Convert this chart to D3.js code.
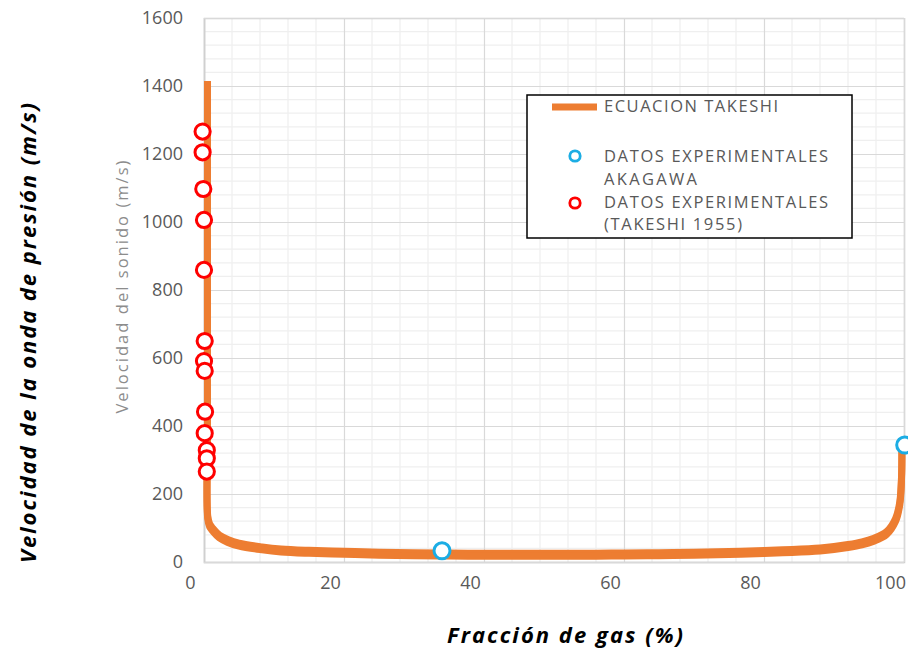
<!DOCTYPE html>
<html>
<head>
<meta charset="utf-8">
<script src="https://cdn.jsdelivr.net/npm/d3@7"></script>
<style>
  html, body { margin: 0; padding: 0; background: #ffffff; }
  svg { display: block; }
</style>
</head>
<body>
<svg id="chart" width="908" height="651"></svg>
<script>
// ---------- data ----------
const curveX = [0.5, 0.5, 0.53, 0.8, 1.3, 2.2, 3.4, 5, 8.3, 11, 15, 20, 25, 30, 35, 40, 45, 50, 56, 60, 65, 70, 75, 80, 84, 88, 90, 92, 94, 95.6, 97.5, 98.8, 99.4, 99.65, 99.7];
const curveY = [1410, 400, 132, 108, 94, 75, 62, 51, 40, 34, 30, 27, 24.5, 23, 22, 21.5, 21.2, 21, 21.5, 22, 23, 24.5, 26.5, 29.5, 32.5, 37, 41, 47, 55, 65, 85, 124, 173, 250, 345];

const akagawaX = [34, 100.1];
const akagawaY = [33, 344];

const takeshiX = [-0.2, -0.2, -0.1, 0, 0, 0.1, 0, 0.1, 0.15, 0.1, 0.4, 0.4, 0.4];
const takeshiY = [1266, 1205, 1097, 1006, 859, 650, 591, 562, 442, 379, 329, 305, 266];

const xTicks = [0, 20, 40, 60, 80, 100];
const yTicks = [0, 200, 400, 600, 800, 1000, 1200, 1400, 1600];
const xMinorStep = 4;
const yMinorStep = 40;

const seriesNames = ["ECUACION TAKESHI", ["DATOS EXPERIMENTALES", "AKAGAWA"], ["DATOS EXPERIMENTALES", "(TAKESHI 1955)"]];
const xTitle = "Fracción de gas (%)";
const yTitleOuter = "Velocidad de la onda de presión (m/s)";
const yTitleInner = "Velocidad del sonido (m/s)";

// ---------- styles ----------
const ORANGE = "#ED7D31";
const BLUE = "#1CADE4";
const RED = "#FF0000";
const TXT = "#595959";

const svg = d3.select("#chart");
const x = d3.scaleLinear().domain([0, 100]).range([204, 904]);
const y = d3.scaleLinear().domain([0, 1600]).range([562, 18]);

// minor gridlines
const xMinor = d3.range(0, 100 + 0.001, xMinorStep).filter(v => v % 20 !== 0);
const yMinor = d3.range(0, 1600 + 0.001, yMinorStep).filter(v => v % 200 !== 0);

const grid = svg.append("g");
grid.selectAll(".xm").data(xMinor).join("line")
  .attr("x1", d => x(d)).attr("x2", d => x(d))
  .attr("y1", y(0)).attr("y2", y(1600))
  .attr("stroke", "#efefef").attr("stroke-width", 1.2);
grid.selectAll(".ym").data(yMinor).join("line")
  .attr("x1", x(0)).attr("x2", x(100))
  .attr("y1", d => y(d)).attr("y2", d => y(d))
  .attr("stroke", "#efefef").attr("stroke-width", 1.2);

// major gridlines + axes
const xAxisG = svg.append("g").attr("transform", `translate(0,${y(0)})`)
  .call(d3.axisBottom(x).tickValues(xTicks).tickFormat(d3.format("d"))
    .tickSize(-(y(0) - y(1600))).tickPadding(14));
xAxisG.select(".domain").attr("stroke", "#d0d0d0").attr("stroke-width", 1.5);
xAxisG.selectAll(".tick line").attr("stroke", "#d9d9d9").attr("stroke-width", 1.2);
xAxisG.selectAll(".tick text")
  .attr("font-family", "'Open Sans', sans-serif").attr("font-size", 18)
  .attr("fill", TXT).attr("dx", -14);

const yAxisG = svg.append("g").attr("transform", `translate(${x(0)},0)`)
  .call(d3.axisLeft(y).tickValues(yTicks).tickFormat(d3.format("d"))
    .tickSize(-(x(100) - x(0))).tickPadding(21));
yAxisG.select(".domain").attr("stroke", "#d0d0d0").attr("stroke-width", 1.5);
yAxisG.selectAll(".tick line").attr("stroke", "#d9d9d9").attr("stroke-width", 1.2);
yAxisG.selectAll(".tick text")
  .attr("font-family", "'Open Sans', sans-serif").attr("font-size", 18)
  .attr("fill", TXT);

// curve (drawn twice with a small vertical offset to mimic the thicker horizontal stroke)
const curvePts = curveX.map((v, i) => [v, curveY[i]]);
const line = d3.line().x(d => x(d[0])).y(d => y(d[1])).curve(d3.curveCatmullRom.alpha(0.5));
[-1.5, 1.5].forEach(off => {
  svg.append("path").datum(curvePts)
    .attr("d", line)
    .attr("transform", `translate(0,${off})`)
    .attr("fill", "none").attr("stroke", ORANGE)
    .attr("stroke-width", 7).attr("stroke-linejoin", "round");
});

// markers
const akaPts = akagawaX.map((v, i) => [v, akagawaY[i]]);
const takPts = takeshiX.map((v, i) => [v, takeshiY[i]]);
svg.append("g").selectAll("circle").data(akaPts).join("circle")
  .attr("cx", d => x(d[0])).attr("cy", d => y(d[1])).attr("r", 8)
  .attr("fill", "#ffffff").attr("stroke", BLUE).attr("stroke-width", 3);
svg.append("g").selectAll("circle").data(takPts).join("circle")
  .attr("cx", d => x(d[0])).attr("cy", d => y(d[1])).attr("r", 7.6)
  .attr("fill", "#ffffff").attr("stroke", RED).attr("stroke-width", 3);

// legend
const lg = svg.append("g");
lg.append("rect").attr("x", 527).attr("y", 95).attr("width", 325).attr("height", 143)
  .attr("fill", "#ffffff").attr("stroke", "#000000").attr("stroke-width", 1.5);
lg.append("line").attr("x1", 552).attr("x2", 597).attr("y1", 107).attr("y2", 107)
  .attr("stroke", ORANGE).attr("stroke-width", 7);
lg.append("circle").attr("cx", 575).attr("cy", 156).attr("r", 5.2)
  .attr("fill", "#fff").attr("stroke", BLUE).attr("stroke-width", 2.8);
lg.append("circle").attr("cx", 575).attr("cy", 203).attr("r", 5.2)
  .attr("fill", "#fff").attr("stroke", RED).attr("stroke-width", 2.8);

const legendRows = [
  { t: seriesNames[0], y: 112, w: 174 },
  { t: seriesNames[1][0], y: 162, w: 224 },
  { t: seriesNames[1][1], y: 185, w: 93 },
  { t: seriesNames[2][0], y: 208, w: 224 },
  { t: seriesNames[2][1], y: 230, w: 138 }
];
lg.selectAll("text").data(legendRows).join("text")
  .attr("x", 604).attr("y", d => d.y)
  .attr("font-family", "'Open Sans', sans-serif").attr("font-size", 16.5)
  .attr("fill", TXT)
  .attr("textLength", d => d.w).attr("lengthAdjust", "spacing")
  .text(d => d.t);

// titles
svg.append("text")
  .attr("transform", "translate(36,333) rotate(-90)")
  .attr("text-anchor", "middle")
  .attr("font-family", "'Open Sans', sans-serif").attr("font-size", 22)
  .attr("font-weight", "bold").attr("font-style", "italic").attr("fill", "#000")
  .attr("textLength", 460).attr("lengthAdjust", "spacing")
  .text(yTitleOuter);

svg.append("text")
  .attr("transform", "translate(128,287) rotate(-90)")
  .attr("text-anchor", "middle")
  .attr("font-family", "'Open Sans', sans-serif").attr("font-size", 16.5)
  .attr("fill", "#8c8c8c")
  .attr("textLength", 253).attr("lengthAdjust", "spacing")
  .text(yTitleInner);

svg.append("text")
  .attr("x", 565).attr("y", 643)
  .attr("text-anchor", "middle")
  .attr("font-family", "'Open Sans', sans-serif").attr("font-size", 22)
  .attr("font-weight", "bold").attr("font-style", "italic").attr("fill", "#000")
  .attr("textLength", 236).attr("lengthAdjust", "spacing")
  .text(xTitle);
</script>
</body>
</html>
